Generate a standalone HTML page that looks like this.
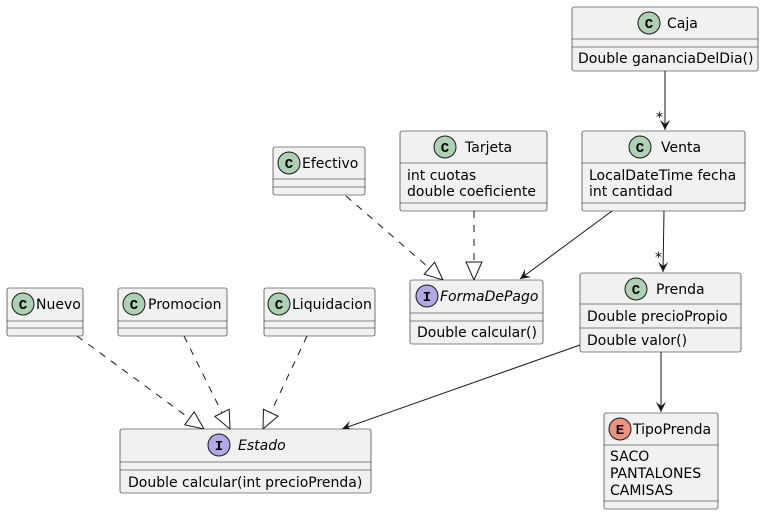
<!DOCTYPE html>
<html><head><meta charset="utf-8"><style>
html,body{margin:0;padding:0;background:#fff}
svg{display:block}
text{font-family:"DejaVu Sans","Liberation Sans",sans-serif;font-size:14px;fill:#000}
.b{fill:#F1F1F1;stroke:#181818;stroke-width:0.6}
.l{stroke:#181818;stroke-width:0.6}
.c{stroke:#181818;stroke-width:1;fill:none}
.d{stroke:#181818;stroke-width:1;fill:none;stroke-dasharray:7,7}
.ic{font-weight:bold;font-size:14px;text-anchor:middle;font-family:"Liberation Mono","DejaVu Sans Mono",monospace}
</style></head><body>
<svg width="764" height="515" viewBox="0 0 764 515" xmlns="http://www.w3.org/2000/svg">
<defs>
<marker id="ar" markerWidth="12" markerHeight="12" refX="10" refY="5" orient="auto" markerUnits="userSpaceOnUse">
<path d="M0,0 L10,5 L0,10 L4,5 Z" fill="#181818"/></marker>
<marker id="tr" markerWidth="22" markerHeight="22" refX="19" refY="9" orient="auto" markerUnits="userSpaceOnUse">
<path d="M1,1 L19,9 L1,17 Z" fill="#fff" stroke="#181818" stroke-width="1"/></marker>
</defs>

<line class="c" x1="665" y1="71" x2="665" y2="130" marker-end="url(#ar)"/>
<text x="656" y="122">*</text>
<line class="c" x1="612" y1="211" x2="520" y2="279" marker-end="url(#ar)"/>
<line class="c" x1="664" y1="211" x2="663" y2="272" marker-end="url(#ar)"/>
<text x="655" y="262">*</text>
<line class="d" x1="346" y1="196" x2="443" y2="280" marker-end="url(#tr)"/>
<line class="d" x1="474" y1="211" x2="474" y2="280" marker-end="url(#tr)"/>
<line class="c" x1="580" y1="345" x2="342" y2="429" marker-end="url(#ar)"/>
<line class="c" x1="661" y1="352" x2="661" y2="412" marker-end="url(#ar)"/>
<line class="d" x1="77" y1="336" x2="204" y2="429" marker-end="url(#tr)"/>
<line class="d" x1="184" y1="336" x2="230" y2="429" marker-end="url(#tr)"/>
<line class="d" x1="307" y1="336" x2="263" y2="429" marker-end="url(#tr)"/>

<rect class="b" x="572" y="7" width="186" height="64" rx="2"/>
<line class="l" x1="572" y1="39" x2="758" y2="39"/><line class="l" x1="572" y1="47" x2="758" y2="47"/>
<circle cx="649" cy="23" r="11" fill="#ADD1B2" stroke="#181818" stroke-width="1"/><text class="ic" x="649" y="28">C</text>
<text x="667" y="28">Caja</text>
<text x="578" y="63">Double gananciaDelDia()</text>

<rect class="b" x="400" y="131" width="147" height="80" rx="2"/>
<line class="l" x1="400" y1="163" x2="547" y2="163"/><line class="l" x1="400" y1="203" x2="547" y2="203"/>
<circle cx="445" cy="147" r="11" fill="#ADD1B2" stroke="#181818" stroke-width="1"/><text class="ic" x="445" y="152">C</text>
<text x="465" y="152">Tarjeta</text>
<text x="407" y="180">int cuotas</text>
<text x="407" y="196">double coeficiente</text>

<rect class="b" x="582" y="131" width="163" height="80" rx="2"/>
<line class="l" x1="582" y1="163" x2="745" y2="163"/><line class="l" x1="582" y1="203" x2="745" y2="203"/>
<circle cx="640" cy="147" r="11" fill="#ADD1B2" stroke="#181818" stroke-width="1"/><text class="ic" x="640" y="152">C</text>
<text x="661" y="152">Venta</text>
<text x="589" y="180">LocalDateTime fecha</text>
<text x="589" y="196">int cantidad</text>

<rect class="b" x="273" y="147" width="92" height="48" rx="2"/>
<line class="l" x1="273" y1="179" x2="365" y2="179"/><line class="l" x1="273" y1="187" x2="365" y2="187"/>
<circle cx="289" cy="163" r="11" fill="#ADD1B2" stroke="#181818" stroke-width="1"/><text class="ic" x="289" y="168">C</text>
<text x="302" y="168">Efectivo</text>

<rect class="b" x="410" y="280" width="133" height="64" rx="2"/>
<line class="l" x1="410" y1="313" x2="543" y2="313"/><line class="l" x1="410" y1="321" x2="543" y2="321"/>
<circle cx="427" cy="296" r="11" fill="#B4A7E5" stroke="#181818" stroke-width="1"/><text class="ic" x="427" y="301">I</text>
<text x="440" y="301" font-style="italic">FormaDePago</text>
<text x="417" y="337">Double calcular()</text>

<rect class="b" x="580" y="273" width="161" height="79" rx="2"/>
<line class="l" x1="580" y1="304" x2="741" y2="304"/><line class="l" x1="580" y1="328" x2="741" y2="328"/>
<circle cx="636" cy="289" r="11" fill="#ADD1B2" stroke="#181818" stroke-width="1"/><text class="ic" x="636" y="294">C</text>
<text x="656" y="294">Prenda</text>
<text x="587" y="321">Double precioPropio</text>
<text x="587" y="345">Double valor()</text>

<rect class="b" x="604" y="413" width="114" height="96" rx="2"/>
<line class="l" x1="604" y1="445" x2="718" y2="445"/><line class="l" x1="604" y1="501" x2="718" y2="501"/>
<circle cx="620" cy="429" r="11" fill="#EB937F" stroke="#181818" stroke-width="1"/><text class="ic" x="620" y="434">E</text>
<text x="633" y="434">TipoPrenda</text>
<text x="610" y="461">SACO</text>
<text x="610" y="478">PANTALONES</text>
<text x="610" y="495">CAMISAS</text>

<rect class="b" x="7" y="288" width="76" height="48" rx="2"/>
<line class="l" x1="7" y1="321" x2="83" y2="321"/><line class="l" x1="7" y1="328" x2="83" y2="328"/>
<circle cx="23" cy="304" r="11" fill="#ADD1B2" stroke="#181818" stroke-width="1"/><text class="ic" x="23" y="309">C</text>
<text x="36" y="309">Nuevo</text>

<rect class="b" x="118" y="288" width="109" height="48" rx="2"/>
<line class="l" x1="118" y1="321" x2="227" y2="321"/><line class="l" x1="118" y1="328" x2="227" y2="328"/>
<circle cx="134" cy="304" r="11" fill="#ADD1B2" stroke="#181818" stroke-width="1"/><text class="ic" x="134" y="309">C</text>
<text x="148" y="309">Promocion</text>

<rect class="b" x="264" y="288" width="111" height="48" rx="2"/>
<line class="l" x1="264" y1="321" x2="375" y2="321"/><line class="l" x1="264" y1="328" x2="375" y2="328"/>
<circle cx="279" cy="304" r="11" fill="#ADD1B2" stroke="#181818" stroke-width="1"/><text class="ic" x="279" y="309">C</text>
<text x="292" y="309">Liquidacion</text>

<rect class="b" x="120" y="429" width="251" height="64" rx="2"/>
<line class="l" x1="120" y1="462" x2="371" y2="462"/><line class="l" x1="120" y1="470" x2="371" y2="470"/>
<circle cx="219" cy="445" r="11" fill="#B4A7E5" stroke="#181818" stroke-width="1"/><text class="ic" x="219" y="450">I</text>
<text x="238" y="450" font-style="italic">Estado</text>
<text x="128" y="487">Double calcular(int precioPrenda)</text>
</svg>
</body></html>
